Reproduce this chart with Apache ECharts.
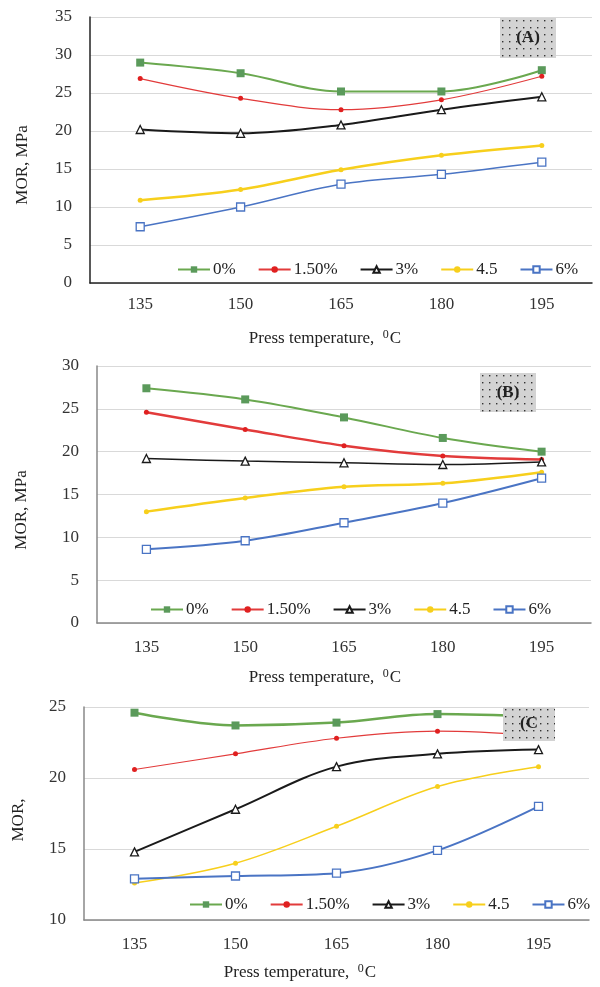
<!DOCTYPE html>
<html><head><meta charset="utf-8">
<script src="https://cdn.jsdelivr.net/npm/echarts@6/dist/echarts.min.js"></script>
<style>html,body{margin:0;padding:0;background:#fff}#c{width:600px;height:987px}</style>
</head><body><div id="c"></div>
<script>
const categories = ['135', '150', '165', '180', '195'];
const seriesNames = ['0%', '1.50%', '3%', '4.5', '6%'];
// Panel A
const a0 = [29.0, 27.6, 25.2, 25.2, 28.0];
const a15 = [26.9, 24.3, 22.8, 24.1, 27.2];
const a3 = [20.2, 19.7, 20.8, 22.8, 24.5];
const a45 = [10.9, 12.3, 14.9, 16.8, 18.1];
const a6 = [7.4, 10.0, 13.0, 14.3, 15.9];
// Panel B
const b0 = [27.4, 26.1, 24.0, 21.6, 20.0];
const b15 = [24.6, 22.6, 20.7, 19.5, 19.1];
const b3 = [19.2, 18.9, 18.7, 18.5, 18.8];
const b45 = [13.0, 14.6, 15.9, 16.3, 17.6];
const b6 = [8.6, 9.6, 11.7, 14.0, 16.9];
// Panel C
const c0 = [24.6, 23.7, 23.9, 24.5, 24.3];
const c15 = [20.6, 21.7, 22.8, 23.3, 23.0];
const c3 = [14.8, 17.8, 20.8, 21.7, 22.0];
const c45 = [12.6, 14.0, 16.6, 19.4, 20.8];
const c6 = [12.9, 13.1, 13.3, 14.9, 18.0];
const yTicksA = [0, 35, 5];
const yTicksB = [0, 30, 5];
const yTicksC = [10, 25, 5];

const FONT = 'Liberation Serif';
const chart = echarts.init(document.getElementById('c'), null, {renderer: 'canvas'});

const styles = [
  {color: '#6aa84f', mcolor: '#5b9a5b', symbol: 'rect', size: 8, fill: null},
  {color: '#e23b3b', mcolor: '#e02020', symbol: 'circle', size: 5, fill: null},
  {color: '#1a1a1a', mcolor: '#1a1a1a', symbol: 'triangle', size: 8, fill: '#ffffff'},
  {color: '#f7cf1c', mcolor: '#f7cf1c', symbol: 'circle', size: 5, fill: null},
  {color: '#4a74c4', mcolor: '#4a74c4', symbol: 'rect', size: 8, fill: '#ffffff'}
];
const widths = {
  0: [2, 1.2, 2, 2.5, 1.5],
  1: [2, 2.5, 1.5, 2.5, 2],
  2: [2.5, 1.2, 2, 1.5, 2]
};
const panelData = [[a0, a15, a3, a45, a6], [b0, b15, b3, b45, b6], [c0, c15, c3, c45, c6]];

const series = [];
panelData.forEach((arrs, p) => {
  arrs.forEach((d, i) => {
    const s = styles[i];
    series.push({
      name: seriesNames[i], type: 'line', xAxisIndex: p, yAxisIndex: p,
      data: d, smooth: 0.35, symbol: s.symbol, symbolSize: s.size,
      lineStyle: {color: s.color, width: widths[p][i]},
      itemStyle: {color: s.fill || s.mcolor, borderColor: s.mcolor, borderWidth: s.fill ? 1.3 : 0},
      color: s.color,
      z: 3
    });
  });
});

const axisLabelStyle = {fontFamily: FONT, fontSize: 17, color: '#333'};
function xAxis(idx, lineColor, margin) {
  return {type: 'category', gridIndex: idx, data: categories, boundaryGap: true,
    axisLine: {lineStyle: {color: lineColor, width: 1.5}}, axisTick: {show: false},
    axisLabel: Object.assign({margin: margin}, axisLabelStyle)};
}
function yAxis(idx, t, lineColor) {
  return {type: 'value', gridIndex: idx, min: t[0], max: t[1], interval: t[2],
    axisLine: {show: true, lineStyle: {color: lineColor, width: 1.5}}, axisTick: {show: false},
    splitLine: {lineStyle: {color: '#d9d9d9', width: 1}},
    axisLabel: Object.assign({margin: 18}, axisLabelStyle)};
}
function legend(left, top) {
  return {left: left, top: top, itemWidth: 32, itemHeight: 8, itemGap: 22, data: seriesNames,
    textStyle: {fontFamily: FONT, fontSize: 17, color: '#222', padding: [0, 0, 0, -2]}};
}

// dotted pattern
const pc = document.createElement('canvas');
pc.width = 7; pc.height = 7;
const pctx = pc.getContext('2d');
pctx.fillStyle = '#d3d3d3'; pctx.fillRect(0, 0, 7, 7);
pctx.fillStyle = '#333'; pctx.fillRect(2, 2, 1.4, 1.4);
const pattern = {image: pc, repeat: 'repeat'};

function box(x, y, w, h, label) {
  return {type: 'group', x: x, y: y, z: 100, children: [
    {type: 'rect', shape: {x: 0, y: 0, width: w, height: h}, style: {fill: pattern}, z: 100},
    {type: 'text', x: w / 2, y: h / 2, z: 101, style: {text: label, font: 'bold 17px "Liberation Serif"', fill: '#222', textAlign: 'center', textVerticalAlign: 'middle'}}
  ]};
}
function ytitle(x, y, text) {
  return {type: 'text', x: x, y: y, rotation: Math.PI / 2, z: 50,
    style: {text: text, font: '17px "Liberation Serif"', fill: '#222', textAlign: 'center', textVerticalAlign: 'middle'}};
}
function xtitle(x, y) {
  return {type: 'text', x: x, y: y, z: 50,
    style: {text: '{a|Press temperature,  }{s|0}{a|C}', textAlign: 'center', textVerticalAlign: 'middle',
      rich: {a: {fontFamily: FONT, fontSize: 17, fill: '#222', color: '#222'},
             s: {fontFamily: FONT, fontSize: 12, fill: '#222', color: '#222', padding: [0, 1, 9, 0]}}}};
}

chart.setOption({
  backgroundColor: '#ffffff',
  animation: false,
  grid: [
    {left: 90, top: 17, width: 502, height: 266},
    {left: 97, top: 366, width: 494, height: 257},
    {left: 84, top: 707, width: 505, height: 213}
  ],
  xAxis: [xAxis(0, '#222', 13), xAxis(1, '#888', 16), xAxis(2, '#888', 16)],
  yAxis: [yAxis(0, yTicksA, '#222'), yAxis(1, yTicksB, '#888'), yAxis(2, yTicksC, '#888')],
  legend: [legend(172, 256), legend(145, 596), legend(184, 891)],
  series: series,
  graphic: [
    box(500, 18, 56, 40, '(A)'),
    box(480, 373, 56, 39, '(B)'),
    box(503, 707, 52, 34, '(C'),
    ytitle(23, 165, 'MOR, MPa'),
    ytitle(22, 510, 'MOR, MPa'),
    ytitle(19, 820, 'MOR,'),
    xtitle(325, 339),
    xtitle(325, 678),
    xtitle(300, 973)
  ]
});
</script></body></html>
